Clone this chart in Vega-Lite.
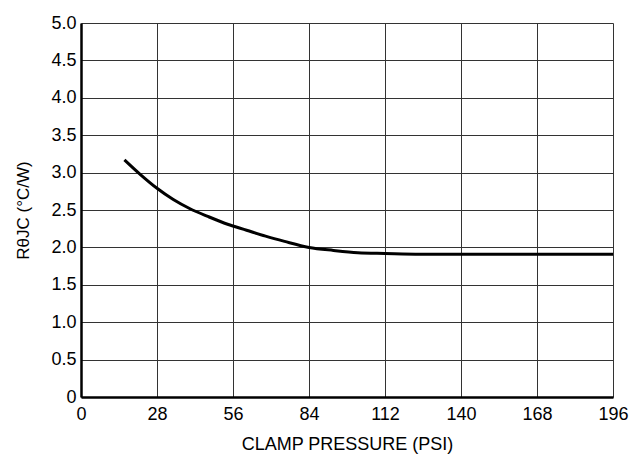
{
  "$schema": "https://vega.github.io/schema/vega-lite/v6.json",
  "width": 532,
  "height": 374,
  "autosize": {"type": "none"},
  "padding": {"left": 81, "top": 23, "right": 18, "bottom": 57},
  "background": "white",
  "config": {
    "view": {"stroke": null},
    "font": "Liberation Sans"
  },
  "data": {
    "values": [
      {"psi": 16, "r": 3.17},
      {"psi": 22, "r": 2.97},
      {"psi": 28, "r": 2.79},
      {"psi": 34, "r": 2.64},
      {"psi": 40, "r": 2.52},
      {"psi": 47, "r": 2.41},
      {"psi": 54, "r": 2.31},
      {"psi": 61, "r": 2.23},
      {"psi": 68, "r": 2.15},
      {"psi": 75, "r": 2.08},
      {"psi": 84, "r": 2.0},
      {"psi": 93, "r": 1.96},
      {"psi": 102, "r": 1.93},
      {"psi": 112, "r": 1.92},
      {"psi": 125, "r": 1.91},
      {"psi": 196, "r": 1.91}
    ]
  },
  "mark": {"type": "line", "color": "black", "strokeWidth": 3, "interpolate": "monotone"},
  "encoding": {
    "x": {
      "field": "psi",
      "type": "quantitative",
      "scale": {"domain": [0, 196], "nice": false, "zero": false},
      "axis": {
        "title": "CLAMP PRESSURE (PSI)",
        "values": [0, 28, 56, 84, 112, 140, 168, 196],
        "grid": true,
        "gridColor": "#333333",
        "gridOpacity": 1,
        "gridWidth": 1,
        "domainColor": "black",
        "domainWidth": 2.5,
        "ticks": false,
        "labelFont": "Liberation Sans",
        "labelFontSize": 18,
        "labelColor": "black",
        "labelPadding": 8,
        "labelFlush": false,
        "titleFont": "Liberation Sans",
        "titleFontSize": 18,
        "titleFontWeight": "normal",
        "titleColor": "black",
        "titlePadding": 12
      }
    },
    "y": {
      "field": "r",
      "type": "quantitative",
      "scale": {"domain": [0, 5], "nice": false},
      "axis": {
        "title": "RθJC (°C/W)",
        "values": [0, 0.5, 1, 1.5, 2, 2.5, 3, 3.5, 4, 4.5, 5],
        "labelExpr": "datum.value == 0 ? '0' : format(datum.value, '.1f')",
        "grid": true,
        "gridColor": "#333333",
        "gridOpacity": 1,
        "gridWidth": 1,
        "domainColor": "black",
        "domainWidth": 2.5,
        "ticks": false,
        "labelFont": "Liberation Sans",
        "labelFontSize": 18,
        "labelColor": "black",
        "labelPadding": 5,
        "labelFlush": false,
        "titleFont": "Liberation Sans",
        "titleFontSize": 17,
        "titleFontWeight": "normal",
        "titleColor": "black",
        "titlePadding": 18
      }
    }
  }
}
